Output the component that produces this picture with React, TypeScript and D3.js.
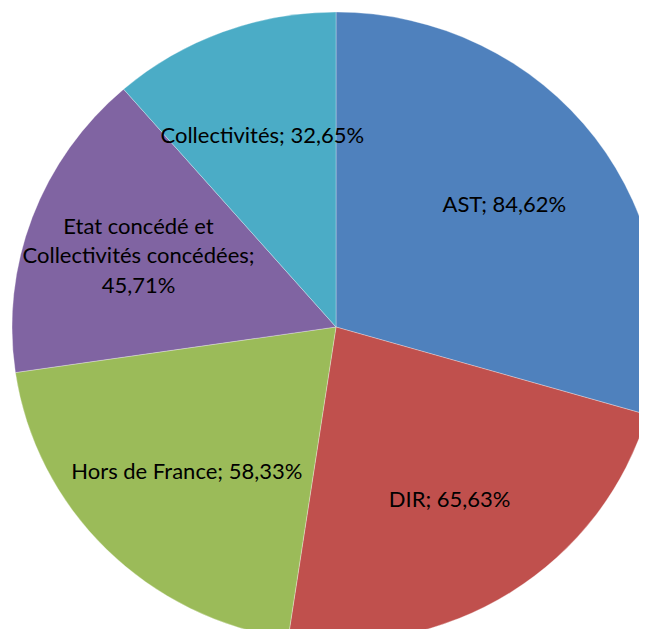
import * as d3 from "d3";
import { useEffect, useRef } from "react";

const categories = [
  "AST",
  "DIR",
  "Hors de France",
  "Etat concédé et Collectivités concédées",
  "Collectivités",
];
const values = [84.62, 65.63, 58.33, 45.71, 32.65];
const colors = ["#4F81BD", "#C0504D", "#9BBB59", "#8064A2", "#4BACC6"];

const fmt = (v: number) => v.toFixed(2).replace(".", ",") + "%";

export default function App() {
  const ref = useRef<SVGSVGElement>(null);

  useEffect(() => {
    const svg = d3.select(ref.current);
    svg.selectAll("*").remove();

    const width = 647;
    const height = 637;
    const cx = 336;
    const cy = 327;
    const rx = 324;
    const ry = 315;
    const fontSize = 22;
    const maxLabelWidth = 248;

    svg.attr("width", width).attr("height", height);

    const data = categories.map((name, i) => ({ name, value: values[i], color: colors[i] }));

    const pie = d3.pie<any>().sort(null).value(d => d.value);
    const arcs = pie(data);

    const arc = d3.arc<any>().innerRadius(0).outerRadius(ry);

    svg.append("g")
      .attr("transform", `translate(${cx},${cy}) scale(${rx / ry},1)`)
      .selectAll("path")
      .data(arcs)
      .join("path")
      .attr("d", arc)
      .attr("fill", d => d.data.color)
      .attr("stroke", "#ffffff")
      .attr("stroke-opacity", 0.5)
      .attr("stroke-width", 0.6);

    const labelFactor = 0.65;
    const labels = svg.append("g")
      .attr("font-family", "Lato, 'Open Sans', sans-serif")
      .attr("font-size", fontSize)
      .attr("fill", "#000");

    arcs.forEach(a => {
      const mid = (a.startAngle + a.endAngle) / 2;
      const x = cx + Math.sin(mid) * rx * labelFactor;
      const y = cy - Math.cos(mid) * ry * labelFactor;
      const words = `${a.data.name}; ${fmt(a.data.value)}`.split(" ");

      const t = labels.append("text").attr("text-anchor", "middle");
      // greedy word wrap, measured
      const lines: string[] = [];
      let cur = "";
      words.forEach(w => {
        const test = cur ? cur + " " + w : w;
        t.text(test);
        if ((t.node() as SVGTextElement).getComputedTextLength() > maxLabelWidth && cur) {
          lines.push(cur);
          cur = w;
        } else {
          cur = test;
        }
      });
      lines.push(cur);
      t.text(null);

      const lh = 29.5;
      const y0 = y - ((lines.length - 1) * lh) / 2 + fontSize * 0.35;
      lines.forEach((l, i) => {
        t.append("tspan").attr("x", x).attr("y", y0 + i * lh).text(l);
      });
    });
  }, []);

  return (
    <div style={{ margin: -8 }}>
      <svg ref={ref} style={{ display: "block" }}></svg>
    </div>
  );
}
